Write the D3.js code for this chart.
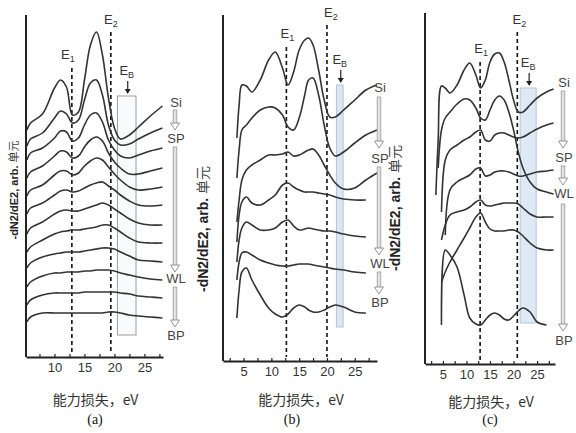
<!DOCTYPE html>
<html>
<head>
<meta charset="utf-8">
<script src="https://cdn.jsdelivr.net/npm/d3@7"></script>
<style>
  body { margin: 0; background: #fff; }
  text { font-family: "Liberation Sans", Arial, sans-serif; }
</style>
</head>
<body>
<svg id="chart" width="576" height="433"></svg>
<script>
// energy grids (eV) and stacked spectra (arb. units, already offset)
var aEnergy = [5.4, 6, 8, 10, 11, 12, 13, 14, 15, 16, 17, 18, 19, 20, 21, 22.5, 24, 26, 28];
var aSeries = [
  [227, 234, 243, 269, 277, 270, 242, 245, 277, 312, 325, 302, 259, 229, 218, 222, 230, 241, 251],
  [211, 218, 224, 239, 246, 243, 234, 237, 257, 274, 277, 262, 232, 217, 212, 213, 218, 224, 229],
  [197, 204, 209, 219, 226, 225, 216, 219, 232, 242, 244, 235, 217, 207, 201, 199, 202, 206, 209],
  [179, 185, 191, 201, 206, 205, 199, 201, 210, 217, 220, 216, 204, 195, 189, 183, 183, 186, 189],
  [161, 167, 172, 182, 186, 186, 182, 184, 191, 196, 199, 197, 190, 183, 177, 170, 167, 168, 170],
  [143, 149, 154, 162, 166, 167, 165, 166, 169, 172, 174, 175, 171, 167, 162, 156, 152, 151, 152],
  [123, 129, 135, 143, 146, 147, 146, 146, 148, 150, 152, 154, 152, 148, 144, 138, 134, 132, 132],
  [105, 110, 117, 123, 125, 126, 127, 127, 128, 129, 130, 132, 132, 129, 125, 119, 115, 114, 114],
  [89, 94, 100, 103, 104, 105, 105, 105, 106, 107, 108, 109, 109, 108, 105, 101, 97, 96, 95],
  [70, 75, 81, 84, 84, 85, 85, 85, 86, 86, 87, 87, 87, 86, 84, 82, 80, 78, 77],
  [52, 57, 62, 64, 64, 64, 64, 64, 65, 65, 65, 65, 65, 65, 64, 63, 61, 60, 59],
  [35, 40, 44, 44, 44, 44, 44, 44, 44, 44, 44, 44, 45, 45, 44, 42, 41, 40, 39]
];

var bEnergy = [3.8, 4.2, 4.7, 5.5, 6.5, 8, 9.5, 10.7, 12, 13, 14, 15, 16, 16.7, 17.5, 18.5, 19.5, 20.5, 21.5, 23, 25, 27, 29];
var bSeries = [
  [223, 256, 276, 275, 269, 281, 301, 309, 293, 276, 289, 311, 321, 323, 316, 291, 261, 244, 244, 251, 261, 271, 276],
  [183, 211, 231, 236, 243, 251, 254, 253, 246, 234, 231, 243, 266, 281, 283, 266, 236, 213, 205, 209, 218, 226, 231],
  [139, 161, 181, 191, 196, 201, 206, 206, 207, 209, 205, 206, 209, 211, 212, 206, 196, 186, 178, 172, 173, 181, 188],
  [119, 146, 159, 164, 158, 156, 161, 166, 176, 178, 174, 171, 169, 169, 169, 168, 167, 166, 164, 162, 161, 161, null],
  [99, 121, 133, 139, 136, 131, 131, 133, 139, 141, 135, 131, 132, 133, 132, 131, 130, 130, 129, 127, 125, 124, null],
  [81, 99, 108, 109, 106, 101, 98, 96, 95, 95, 96, 97, 97, 97, 96, 95, 94, 93, 92, 91, 89, 88, null],
  [43, 71, 89, 93, 81, 66, 53, 47, 44, 47, 53, 56, 54, 51, 49, 49, 51, 54, 56, 54, 49, 48, null]
];

var cEnergy = [3.5, 4, 4.7, 5.5, 6.5, 8, 9.5, 10.7, 12, 13, 14, 15, 16, 17, 18, 19, 20, 21, 22, 23.5, 25, 27, 28.5];
var cSeries = [
  [169, 224, 278, 276, 271, 279, 294, 301, 289, 276, 284, 302, 310, 311, 302, 284, 264, 252, 252, 259, 266, 272, 275],
  [null, 196, 234, 246, 252, 260, 265, 264, 256, 246, 244, 254, 264, 268, 264, 252, 234, 212, 196, 182, 175, 172, 170],
  [null, null, 152, 204, 214, 219, 224, 227, 232, 234, 224, 223, 229, 231, 231, 229, 227, 226, 227, 231, 235, 239, 241],
  [null, null, null, 129, 174, 182, 186, 189, 195, 196, 188, 189, 192, 193, 193, 192, 190, 188, 188, 190, 192, 193, 194],
  [null, null, 124, 139, 149, 152, 154, 157, 162, 164, 159, 158, 159, 160, 161, 161, 161, 160, 156, 150, 147, 147, 147],
  [null, null, 82, 92, 102, 114, 126, 136, 147, 151, 142, 135, 133, 133, 133, 134, 134, 132, 128, 121, 116, 114, 114],
  [null, null, 39, 114, 109, 97, 69, 46, 40, 39, 44, 49, 51, 49, 45, 44, 48, 53, 56, 52, 42, 39, null]
];

var e1Energy = [12.9, 12.7, 12.9];
var e2Energy = [19.4, 20.0, 20.8];
var ebRange = [[20.5, 23.6], [21.7, 22.9], [21.4, 24.8]];
var stageLabels = ["Si", "SP", "WL", "BP"];
var panelLetters = ["(a)", "(b)", "(c)"];
var xTitle = "能力损失，eV";
var yTitleBold = "-dN2/dE2, arb. ";
var yTitleRest = "单元";

// layout of the three panels
var layout = [
  { energy: aEnergy, series: aSeries, xd: [5.25, 28.1], xr: [26, 163], yd: [0, 342], yr: [357, 15],
    e1Top: 289, e2Top: 325, e1Dx: -4, e2Dx: 0, box: [22, 261], boxFill: "#f8fafc", boxStroke: "#9e9e9e",
    stageX: 176, stageY: [102, 138, 278, 335], arrows: [[110, 130], [147, 272], [287, 327]],
    yTitle: [14, 190, 11], xTitleY: 405, letterX: 95 },
  { energy: bEnergy, series: bSeries, xd: [1.3, 29], xr: [223, 377], yd: [0, 346], yr: [361, 15],
    e1Top: 314, e2Top: 336, e1Dx: 1, e2Dx: 4, box: [34, 276], boxFill: "#dbe6f2", boxStroke: "#b3c4d6",
    stageX: 380, stageY: [87, 158, 263, 302], arrows: [[97, 148], [167, 255], [272, 294]],
    yTitle: [203, 229, 14], xTitleY: 405, letterX: 292 },
  { energy: cEnergy, series: cSeries, xd: [1.2, 28.8], xr: [425, 555], yd: [0, 351], yr: [364, 13],
    e1Top: 302, e2Top: 332, e1Dx: 1, e2Dx: 2, box: [41, 276], boxFill: "#dfe9f4", boxStroke: "#b3c4d6",
    stageX: 564, stageY: [82, 157, 193, 340], arrows: [[91, 148], [166, 185], [204, 331]],
    yTitle: [395, 208, 14], xTitleY: 407, letterX: 490 }
];

var svg = d3.select("#chart");

function eLabel(g, x, y, sub) {
  var t = g.append("text").attr("x", x).attr("y", y).attr("text-anchor", "middle")
    .attr("fill", "#333").style("font-size", "13px");
  t.append("tspan").text("E");
  t.append("tspan").attr("dy", 3).style("font-size", "9px").text(sub);
}

function downArrow(g, x, y0, y1) {
  g.append("rect").attr("x", x - 1.8).attr("y", y0).attr("width", 3.6).attr("height", y1 - y0 - 6)
    .attr("fill", "#e2e2e2").attr("stroke", "#9a9a9a").attr("stroke-width", 0.8);
  g.append("path").attr("d", "M" + (x - 4.5) + "," + (y1 - 7) + "L" + (x + 4.5) + "," + (y1 - 7) + "L" + x + "," + y1 + "Z")
    .attr("fill", "#fff").attr("stroke", "#8a8a8a").attr("stroke-width", 0.9);
}

layout.forEach(function (p, i) {
  var g = svg.append("g");
  var x = d3.scaleLinear().domain(p.xd).range(p.xr);
  var y = d3.scaleLinear().domain(p.yd).range(p.yr);

  // E_B box
  g.append("rect")
    .attr("x", x(ebRange[i][0])).attr("width", x(ebRange[i][1]) - x(ebRange[i][0]))
    .attr("y", y(p.box[1])).attr("height", y(p.box[0]) - y(p.box[1]))
    .attr("fill", p.boxFill).attr("stroke", p.boxStroke).attr("stroke-width", 1);

  // dashed E1 / E2 lines
  [[e1Energy[i], p.e1Top], [e2Energy[i], p.e2Top]].forEach(function (d) {
    g.append("line").attr("x1", x(d[0])).attr("x2", x(d[0]))
      .attr("y1", y(d[1])).attr("y2", y(4))
      .attr("stroke", "#111").attr("stroke-width", 1.6).attr("stroke-dasharray", "4,3");
  });
  eLabel(g, x(e1Energy[i]) + p.e1Dx, y(p.e1Top) - 9, "1");
  eLabel(g, x(e2Energy[i]) + p.e2Dx, y(p.e2Top) - 8, "2");
  var ebMid = (ebRange[i][0] + ebRange[i][1]) / 2;
  eLabel(g, x(ebMid), y(p.box[1]) - 21, "B");
  g.append("line").attr("x1", x(ebMid) + 1).attr("x2", x(ebMid) + 1)
    .attr("y1", y(p.box[1]) - 15).attr("y2", y(p.box[1]) - 6)
    .attr("stroke", "#222").attr("stroke-width", 1.2);
  g.append("path")
    .attr("d", "M" + (x(ebMid) - 2) + "," + (y(p.box[1]) - 7) + "L" + (x(ebMid) + 4) + "," + (y(p.box[1]) - 7) + "L" + (x(ebMid) + 1) + "," + (y(p.box[1]) - 2) + "Z")
    .attr("fill", "#222");

  // spectra
  var line = d3.line()
    .defined(function (d) { return d != null; })
    .x(function (d, j) { return x(p.energy[j]); })
    .y(function (d) { return y(d); })
    .curve(d3.curveCatmullRom.alpha(0.5));
  g.selectAll("path.spec").data(p.series).enter().append("path")
    .attr("class", "spec")
    .attr("d", line)
    .attr("fill", "none").attr("stroke", "#333").attr("stroke-width", 1.6)
    .attr("stroke-linejoin", "round");

  // axes
  var ticks = d3.range(2.5, 30, 2.5).filter(function (v) { return v >= p.xd[0] && v <= p.xd[1]; });
  var xAxis = d3.axisBottom(x).tickValues(ticks).tickSize(-3).tickSizeOuter(0).tickPadding(6)
    .tickFormat(function (d) { return d % 5 === 0 ? d : ""; });
  var ax = g.append("g").attr("transform", "translate(0," + p.yr[0] + ")").call(xAxis);
  ax.select(".domain").attr("stroke", "#222").attr("stroke-width", 1.8);
  ax.selectAll(".tick line").attr("stroke", "#222").attr("stroke-width", 1.2);
  ax.selectAll("text").attr("fill", "#333").style("font-size", "13px")
    .style("font-family", "'Liberation Sans', Arial, sans-serif");

  g.append("line").attr("x1", p.xr[0]).attr("x2", p.xr[0])
    .attr("y1", p.yr[1]).attr("y2", p.yr[0])
    .attr("stroke", "#222").attr("stroke-width", 2);

  // titles
  var yt = g.append("text")
    .attr("transform", "translate(" + p.yTitle[0] + "," + p.yTitle[1] + ") rotate(-90)")
    .attr("text-anchor", "middle").attr("dy", "0.35em")
    .attr("fill", "#222").style("font-size", p.yTitle[2] + "px");
  yt.append("tspan").style("font-weight", "bold").text(yTitleBold);
  yt.append("tspan").style("font-family", "'Noto Sans CJK SC', sans-serif").attr("fill", "#444").text(yTitleRest);

  g.append("text").attr("x", (p.xr[0] + p.xr[1]) / 2 + 1).attr("y", p.xTitleY)
    .attr("text-anchor", "middle").attr("fill", "#333")
    .style("font-family", "'Noto Sans CJK SC', sans-serif").style("font-size", "14px")
    .text(xTitle);

  g.append("text").attr("x", p.letterX).attr("y", 424)
    .attr("text-anchor", "middle").attr("fill", "#111")
    .style("font-family", "'Liberation Serif', 'Times New Roman', serif").style("font-size", "14px")
    .text(panelLetters[i]);

  // stage labels and arrows
  stageLabels.forEach(function (s, k) {
    g.append("text").attr("x", p.stageX).attr("y", p.stageY[k]).attr("dy", "0.35em")
      .attr("text-anchor", "middle").attr("fill", "#444").style("font-size", "13px").text(s);
  });
  p.arrows.forEach(function (a) {
    downArrow(g, p.stageX - 1, a[0], a[1]);
  });
});
</script>
</body>
</html>
